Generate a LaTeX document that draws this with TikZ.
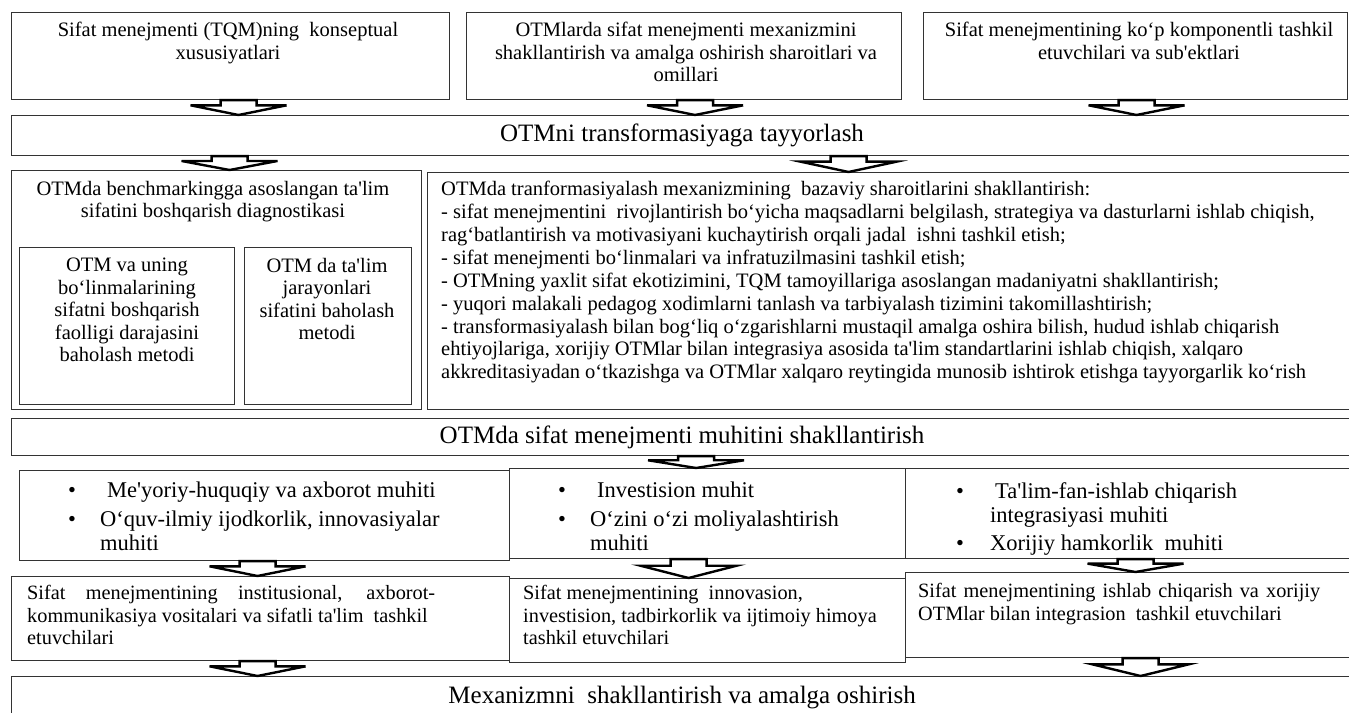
\documentclass[tikz,border=0pt]{standalone}
\usepackage{fontspec}
\setmainfont{Liberation Serif}[Ligatures=TeXOff]
\usetikzlibrary{calc, positioning}

\newcommand{\fs}[2]{\fontsize{#1}{#2}\selectfont}
\newcommand{\spread}[2]{\makebox[#1pt][s]{#2}}
% block arrow: top point, bottom point
\newcommand{\barrow}[2]{%
  \draw[barrowline] let \p1=#1, \p2=#2, \n1={0.35*(\y1-\y2)} in
    (\x1-18pt,\y1) -- (\x1+18pt,\y1) -- (\x1+18pt,\y1-\n1) -- (\x1+48pt,\y1-\n1)
    -- (\x1,\y2) -- (\x1-48pt,\y1-\n1) -- (\x1-18pt,\y1-\n1) -- cycle;}

\tikzset{
  box/.style={draw=black!80, line width=1.1pt, fill=white, inner sep=0pt, anchor=north west},
  band/.style={box, font=\fs{25}{28}},
  txt/.style={inner sep=0pt, font=\fs{20.5}{22.5}},
  barrowline/.style={draw=black, line width=2.4pt, fill=white, line join=miter}
}

\begin{document}
\begin{tikzpicture}[x=1pt, y=-1pt]
\useasboundingbox (0,0) rectangle (1349,712);
\clip (0,0) rectangle (1349,712);
\fill[white] (0,0) rectangle (1349,712);

% boxes: name/x/y/width/height
\foreach \n/\x/\y/\w/\h in {
    conc/11/12/438/87,
    cond/466/12/435/87,
    comp/923/12/424/87,
    diag/11/170/410/239,
    meth1/19/247/215/157,
    meth2/244/247/167/157,
    base/427/172/925/237,
    envL/19/470/490/90,
    envM/509/468/396/90,
    envR/905/468/447/90,
    orgL/11/576/498/84,
    orgM/509/578/396/84,
    orgR/905/572/447/85} {
    \node[box, minimum width=\w, minimum height=\h] (\n) at (\x,\y) {};
}

% bands
\node[band, minimum width=1341, minimum height=40] (prep) at (11,115) {OTMni transformasiyaga tayyorlash};
\node[band, minimum width=1341, minimum height=37] (env) at (11,418) {OTMda sifat menejmenti muhitini shakllantirish};
\node[band, minimum width=1341, minimum height=42] (mech) at (11,676) {Mexanizmni~ shakllantirish va amalga oshirish};

% texts
\node[txt, align=center, anchor=north] (concT) at (228,22) {Sifat menejmenti (TQM)ning~ konseptual\\xususiyatlari};
\node[txt, align=center, anchor=north] (condT) at (686,22) {OTMlarda sifat menejmenti mexanizmini\\shakllantirish va amalga oshirish sharoitlari va\\omillari};
\node[txt, align=center, anchor=north] (compT) at (1139,22) {Sifat menejmentining ko‘p komponentli tashkil\\etuvchilari va sub'ektlari};
\node[txt, align=center, anchor=north] (diagT) at (213,181) {OTMda benchmarkingga asoslangan ta'lim\\sifatini boshqarish diagnostikasi};
\node[txt, align=center, anchor=north] (meth1T) at (127,258) {OTM va uning\\bo‘linmalarining\\sifatni boshqarish\\faolligi darajasini\\baholash metodi};
\node[txt, align=center, anchor=north] (meth2T) at (327,258) {OTM da ta'lim\\jarayonlari\\sifatini baholash\\metodi};
\node[txt, align=left, anchor=north west, font=\fs{20.5}{22.9}] (baseT) at (441,181) {OTMda tranformasiyalash mexanizmining~ bazaviy sharoitlarini shakllantirish:\\
- sifat menejmentini~ rivojlantirish bo‘yicha maqsadlarni belgilash, strategiya va dasturlarni ishlab chiqish,\\
rag‘batlantirish va motivasiyani kuchaytirish orqali jadal~ ishni tashkil etish;\\
- sifat menejmenti bo‘linmalari va infratuzilmasini tashkil etish;\\
- OTMning yaxlit sifat ekotizimini, TQM tamoyillariga asoslangan madaniyatni shakllantirish;\\
- yuqori malakali pedagog xodimlarni tanlash va tarbiyalash tizimini takomillashtirish;\\
- transformasiyalash bilan bog‘liq o‘zgarishlarni mustaqil amalga oshira bilish, hudud ishlab chiqarish\\
ehtiyojlariga, xorijiy OTMlar bilan integrasiya asosida ta'lim standartlarini ishlab chiqish, xalqaro\\
akkreditasiyadan o‘tkazishga va OTMlar xalqaro reytingida munosib ishtirok etishga tayyorgarlik ko‘rish};

\node[txt, align=left, anchor=north west, font=\fs{22.5}{24}] (envLT) at (68,482) {\makebox[32pt][l]{•}\hspace{7pt}Me'yoriy-huquqiy va axborot muhiti\\[5pt]\makebox[32pt][l]{•}O‘quv-ilmiy ijodkorlik, innovasiyalar\\\hspace*{32pt}muhiti};
\node[txt, align=left, anchor=north west, font=\fs{22.5}{24}] (envMT) at (558,482) {\makebox[32pt][l]{•}\hspace{7pt}Investision muhit\\[5pt]\makebox[32pt][l]{•}O‘zini o‘zi moliyalashtirish\\\hspace*{32pt}muhiti};
\node[txt, align=left, anchor=north west, font=\fs{22.5}{24}] (envRT) at (956,482) {\makebox[34pt][l]{•}\hspace{5pt}Ta'lim-fan-ishlab chiqarish\\\hspace*{34pt}integrasiyasi muhiti\\[4pt]\makebox[34pt][l]{•}Xorijiy hamkorlik~ muhiti};

\node[txt, align=left, anchor=north west, font=\fs{20.3}{22.5}] (orgLT) at (27,585) {\spread{408}{Sifat menejmentining institusional, axborot-}\\kommunikasiya vositalari va sifatli ta'lim~ tashkil\\etuvchilari};
\node[txt, align=left, anchor=north west, font=\fs{20.3}{22.5}] (orgMT) at (523,585) {Sifat menejmentining~ innovasion,\\investision, tadbirkorlik va ijtimoiy himoya\\tashkil etuvchilari};
\node[txt, align=left, anchor=north west, font=\fs{20.3}{22.5}] (orgRT) at (918,583) {\spread{402}{Sifat menejmentining ishlab chiqarish va xorijiy}\\OTMlar bilan integrasion~ tashkil etuvchilari};

% arrows: from/to/shift
\foreach \a/\b/\d in {conc/prep/8, cond/prep/11, comp/prep/1,
    envL/orgL/-7, envM/orgM/-19, envR/orgR/6.5,
    orgL/mech/-3, orgR/mech/11.5}
  \barrow{($(\a.south)+(\d,0)$)}{(\b.north)};
\barrow{($(prep.south)+(-452.5,0)$)}{(diag.north)}
\barrow{($(prep.south)+(166.5,0)$)}{(base.north)}
\barrow{($(env.south)+(14,0)$)}{(envM.north)}
\end{tikzpicture}
\end{document}
